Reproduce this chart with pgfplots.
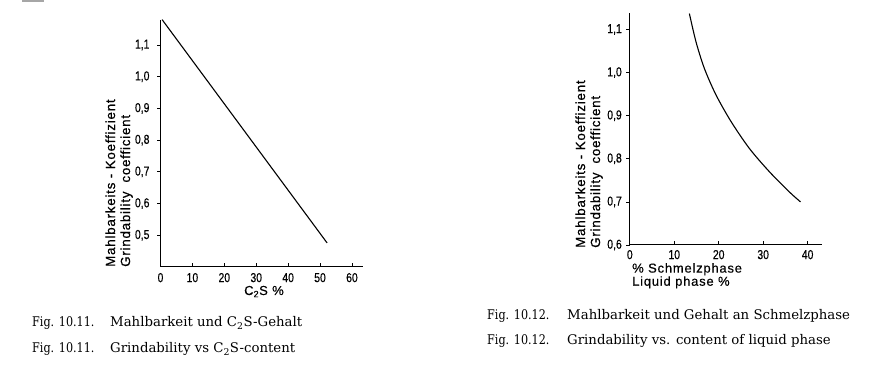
\documentclass[border=0pt]{standalone}
\usepackage{fontspec}
\setmainfont{DejaVu Serif}
\setsansfont{Liberation Sans}
\newfontfamily\labfont[LetterSpace=6,FakeBold=0.4]{Liberation Sans}
\newfontfamily\tickfont[FakeStretch=0.8,FakeBold=0.4]{Liberation Sans}
\newfontfamily\figfont[FakeStretch=0.84]{DejaVu Serif}
\usepackage{pgfplots}
\pgfplotsset{compat=1.18}
\pgfplotsset{grstyle/.style={
  scale only axis,
  axis x line*=bottom, axis y line*=left,
  axis line style={-, line width=1pt},
  tick align=outside,
  major tick length=3.5pt,
  tick style={black, line width=0.7pt},
  xtick style={yshift=3.5pt},
  ticklabel style={font=\fontsize{13}{14}\tickfont},
  /pgf/number format/assume math mode=true,
  yticklabel style={/pgf/number format/use comma, /pgf/number format/fixed, /pgf/number format/fixed zerofill, /pgf/number format/precision=1},
  xticklabel style={/pgf/number format/fixed, /pgf/number format/precision=0},
  clip=false,
}}
\begin{document}
\begin{tikzpicture}
\path[use as bounding box] (0,0) rectangle (892pt,385pt);
\draw[gray!70, line width=2pt] (22pt,384pt) -- (44pt,384pt);
% left chart
\begin{axis}[grstyle, at={(160.5pt,118pt)}, anchor=south west,
  width=202.3pt, height=247.4pt,
  xmin=0, xmax=63.4, ymin=0.4, ymax=1.18,
  xtick={0,10,20,30,40,50,60},
  ytick={0.5,0.6,0.7,0.8,0.9,1.0,1.1},
  yticklabel style={xshift=-4pt},
  xticklabel style={yshift=1pt}]
\addplot[black, line width=1.1pt] coordinates {(0.5,1.18) (52.2,0.476)};
\end{axis}
\node[rotate=90, anchor=south west, align=left, inner sep=0pt,
  font=\fontsize{13.3}{15}\labfont] at (133pt,118pt)
  {Mahlbarkeits - Koeffizient\\Grindability\ \ coefficient};
\node[anchor=base, inner sep=0pt, font=\fontsize{13}{13}\labfont] at (264pt,90pt) {C\textsubscript{2}S \%};
% right chart
\begin{axis}[grstyle, at={(629.8pt,140pt)}, anchor=south west,
  width=192.5pt, height=232.3pt,
  xmin=0, xmax=43.3, ymin=0.6, ymax=1.139,
  xtick={0,10,20,30,40},
  ytick={0.6,0.7,0.8,0.9,1.0,1.1},
  yticklabel style={xshift=-1pt},
  xticklabel style={yshift=2pt}]
\addplot[black, line width=1.1pt, smooth] coordinates {
 (13.4,1.137) (14.9,1.071) (16.8,1.009) (19.4,0.948) (22.8,0.886)
 (26.9,0.824) (31.4,0.770) (35.9,0.723) (38.4,0.700)};
\end{axis}
\node[rotate=90, anchor=south west, align=left, inner sep=0pt,
  font=\fontsize{13.3}{15}\labfont] at (603pt,137pt)
  {Mahlbarkeits - Koeffizient\\Grindability\ \ coefficient};
\node[anchor=north west, align=left, inner sep=0pt, font=\fontsize{13}{11.5}\labfont] at (632pt,122pt)
  {\% Schmelzphase\\Liquid phase \%};
% captions
\begin{scope}[every node/.style={anchor=base west, inner sep=0pt, font=\fontsize{13.3}{15}\selectfont}]
\node[font=\fontsize{13.3}{15}\figfont] at (32pt,58pt) {Fig. 10.11.};
\node at (110pt,58pt) {Mahlbarkeit und C\textsubscript{2}S-Gehalt};
\node[font=\fontsize{13.3}{15}\figfont] at (32pt,32pt) {Fig. 10.11.};
\node at (110pt,32pt) {Grindability vs C\textsubscript{2}S-content};
\node[font=\fontsize{13.3}{15}\figfont] at (487pt,65pt) {Fig. 10.12.};
\node at (567pt,65pt) {Mahlbarkeit und Gehalt an Schmelzphase};
\node[font=\fontsize{13.3}{15}\figfont] at (487pt,40pt) {Fig. 10.12.};
\node at (567pt,40pt) {Grindability vs. content of liquid phase};
\end{scope}
\end{tikzpicture}
\end{document}
